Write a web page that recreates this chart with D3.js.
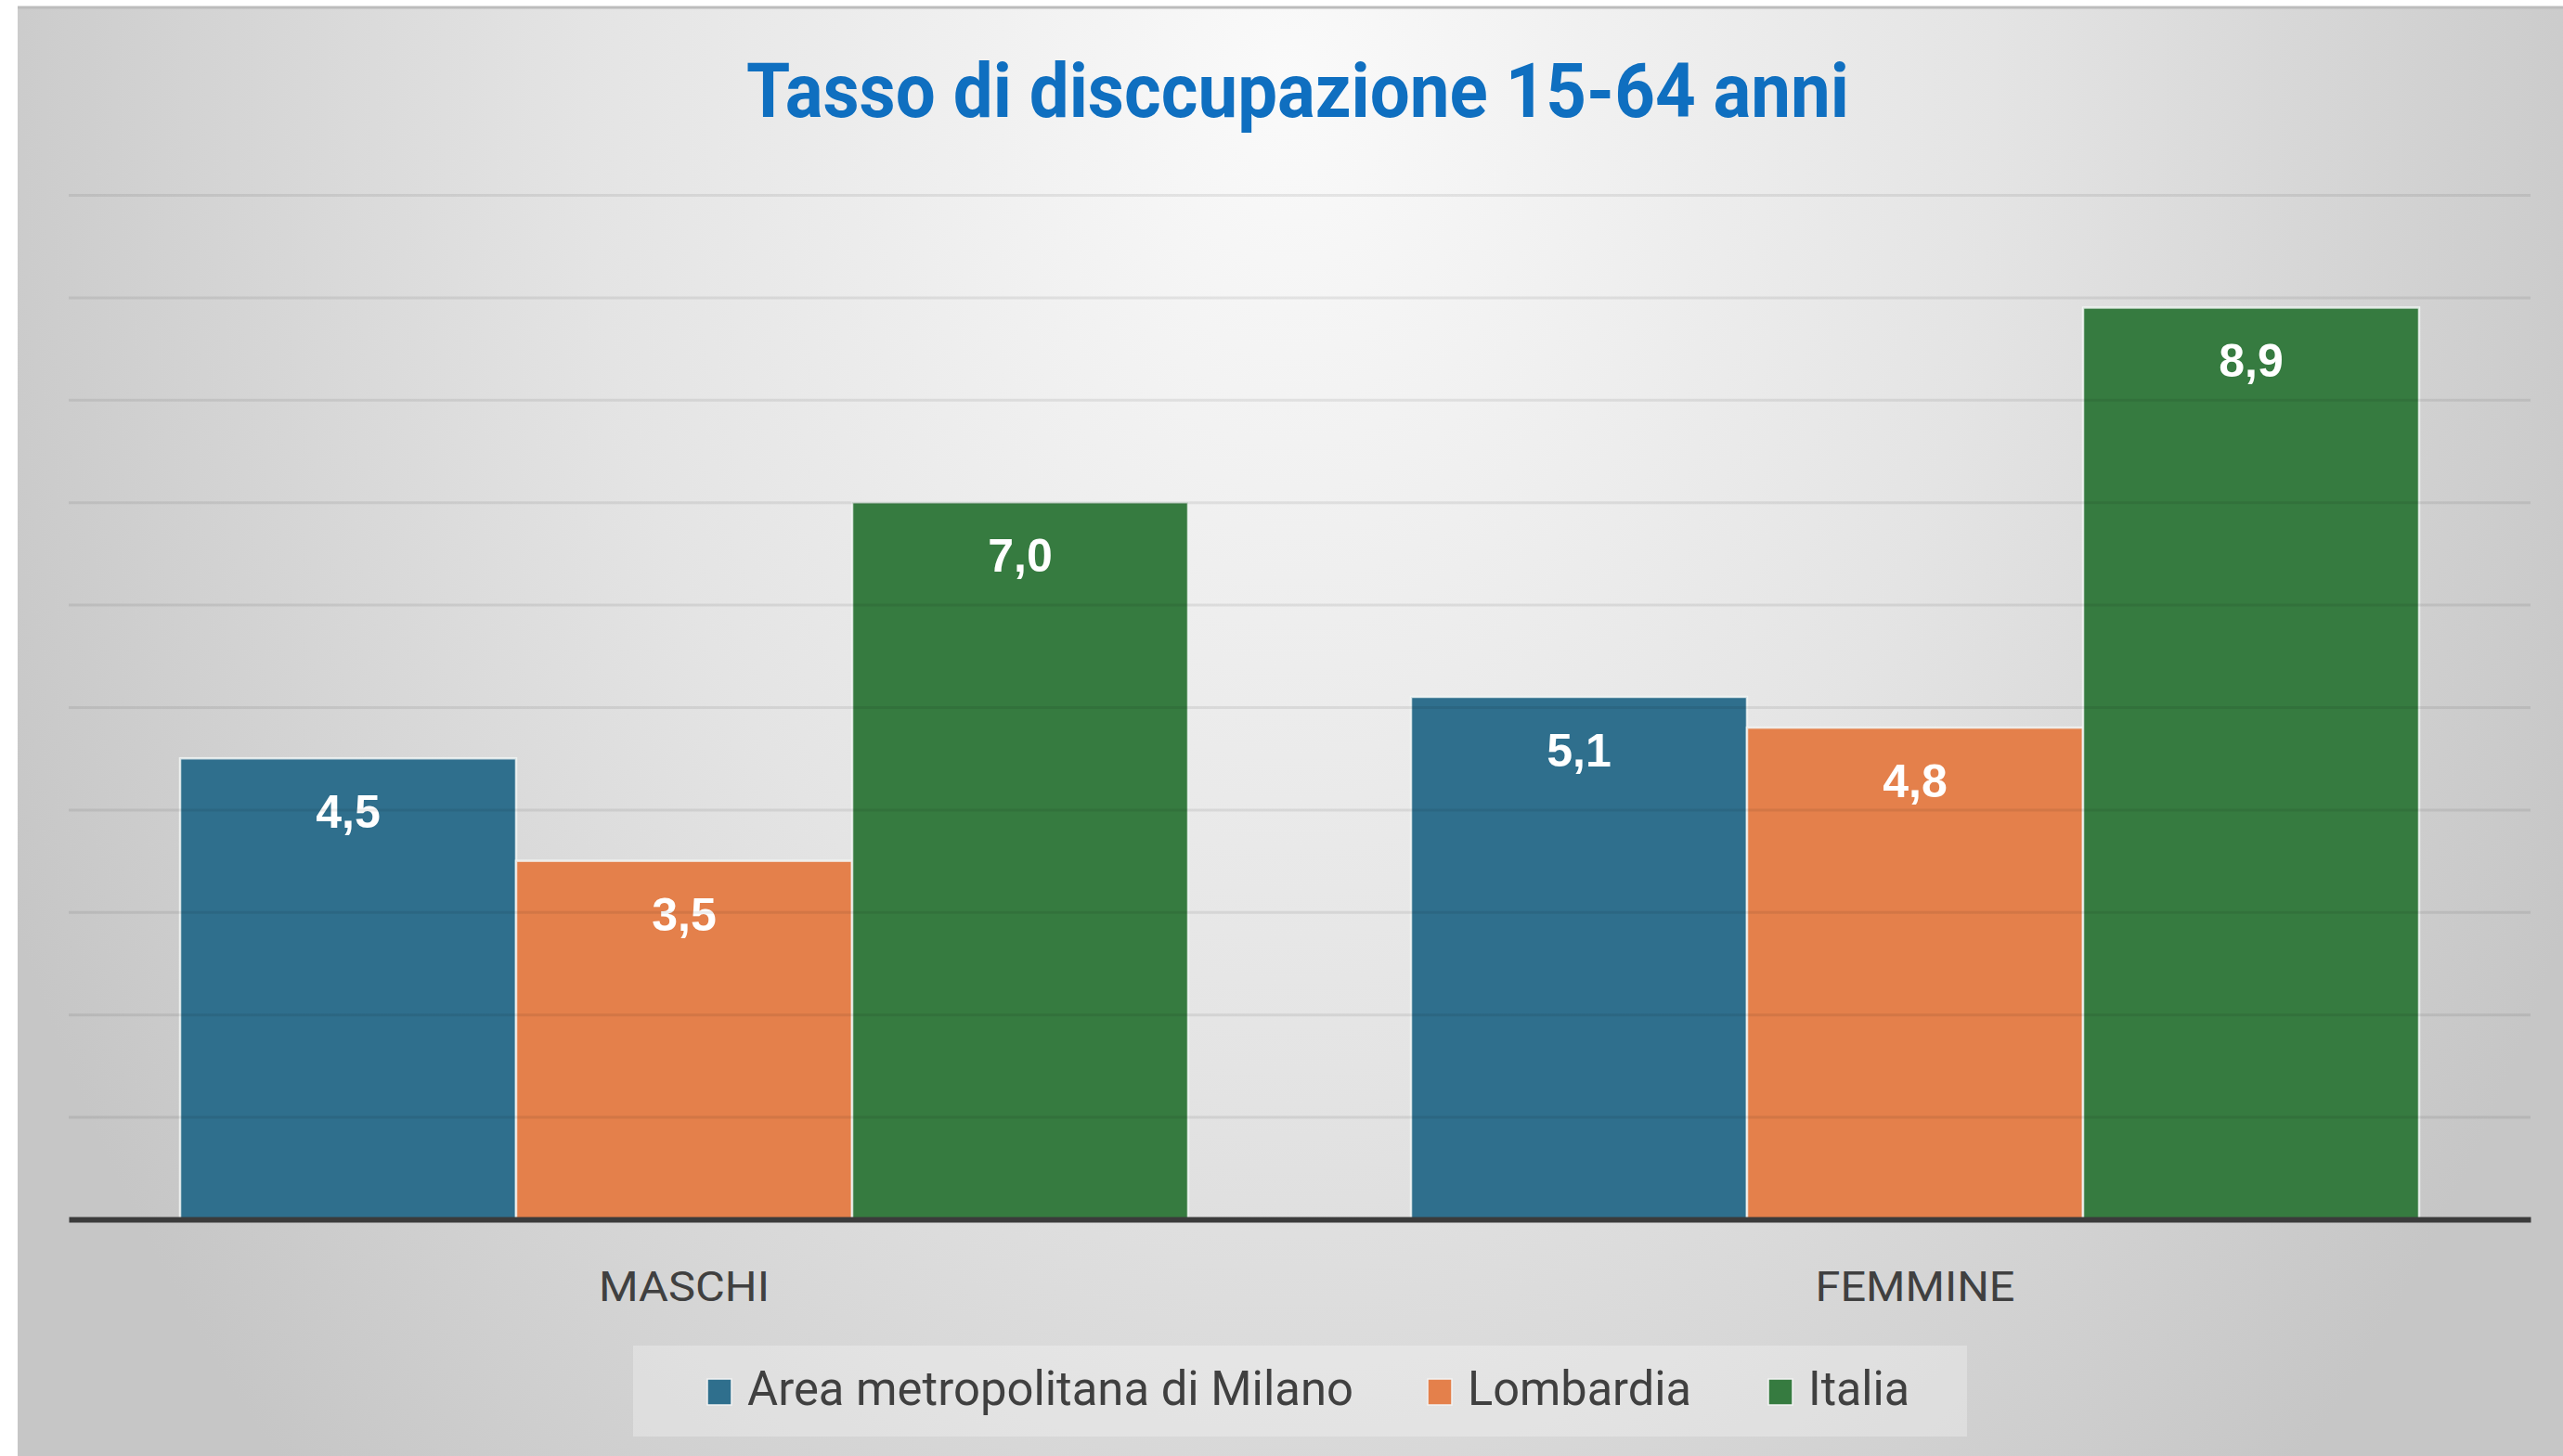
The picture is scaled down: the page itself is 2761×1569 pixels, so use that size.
<!DOCTYPE html>
<html>
<head>
<meta charset="utf-8">
<script src="https://cdn.jsdelivr.net/npm/d3@7"></script>
<style>
  body { margin: 0; background: #fff; }
  svg { display: block; }
</style>
</head>
<body>
<div class="chart"></div>
<script>
// Tasso di disoccupazione 15-64 anni - grouped bars

var categories = ["MASCHI", "FEMMINE"];
var seriesNames = ["Area metropolitana di Milano", "Lombardia", "Italia"];
var milanoValues = [4.5, 5.1];
var lombardiaValues = [3.5, 4.8];
var italiaValues = [7.0, 8.9];
var seriesColors = ["#2F6F8D", "#E4804B", "#367B40"];
var titleText = "Tasso di disccupazione 15-64 anni";

var seriesValues = [milanoValues, lombardiaValues, italiaValues];

var svgWidth = 2761;
var svgHeight = 1569;

var margin = { top: 210, right: 35, bottom: 255, left: 74 };
var width = svgWidth - margin.left - margin.right;
var height = 1314 - margin.top;

var fmt = d3.formatLocale({ decimal: ",", thousands: ".", grouping: [3], currency: ["", "€"] }).format(".1f");

var svg = d3.select(".chart")
  .append("svg")
  .attr("width", svgWidth)
  .attr("height", svgHeight);

var defs = svg.append("defs");

// background gradient, light near the title, darker to the sides
var bgGrad = defs.append("radialGradient")
  .attr("id", "bg")
  .attr("gradientUnits", "userSpaceOnUse")
  .attr("cx", 1390).attr("cy", 90).attr("r", 1520)
  .attr("gradientTransform", "translate(1390,90) scale(1,1.4) translate(-1390,-90)");
bgGrad.append("stop").attr("offset", 0).attr("stop-color", "#fafafa");
bgGrad.append("stop").attr("offset", 0.5).attr("stop-color", "#e4e4e4");
bgGrad.append("stop").attr("offset", 1).attr("stop-color", "#c6c6c6");

// gridlines fade out toward the top
var gridGrad = defs.append("linearGradient")
  .attr("id", "gridfade")
  .attr("gradientUnits", "userSpaceOnUse")
  .attr("x1", 0).attr("y1", margin.top)
  .attr("x2", 0).attr("y2", margin.top + height);
gridGrad.append("stop").attr("offset", 0).attr("stop-color", "#000").attr("stop-opacity", 0.08);
gridGrad.append("stop").attr("offset", 1).attr("stop-color", "#000").attr("stop-opacity", 0.3);

svg.append("rect")
  .attr("x", 19).attr("y", 7)
  .attr("width", svgWidth - 19).attr("height", svgHeight - 7)
  .attr("fill", "url(#bg)");

svg.append("line")
  .attr("x1", 19).attr("x2", svgWidth)
  .attr("y1", 8).attr("y2", 8)
  .attr("stroke", "#bcbcbc")
  .attr("stroke-width", 3);

// squeeze text into the width it takes in the original
function fitWidth(sel, w) {
  sel.attr("textLength", w).attr("lengthAdjust", "spacingAndGlyphs");
}

// title
var title = svg.append("text")
  .attr("x", 1398)
  .attr("y", 126)
  .attr("text-anchor", "middle")
  .style("font-family", "Roboto, 'Liberation Sans', sans-serif")
  .style("font-weight", "bold")
  .style("font-size", "81px")
  .style("fill", "#0F6FC0")
  .text(titleText);
fitWidth(title, 1188);

var chartGroup = svg.append("g")
  .attr("transform", `translate(${margin.left}, ${margin.top})`);

// scales
var x0 = d3.scaleBand()
  .domain(categories)
  .range([0, width])
  .paddingInner(0.181)
  .paddingOuter(0.0905);

var x1 = d3.scaleBand()
  .domain(seriesNames)
  .range([0, x0.bandwidth()]);

var yLinearScale = d3.scaleLinear()
  .domain([0, 10])
  .range([height, 0]);

// bars
var rows = categories.map(function(c, i) {
  return seriesNames.map(function(s, j) {
    return { cat: c, series: s, value: seriesValues[j][i], color: seriesColors[j] };
  });
});

var groups = chartGroup.selectAll(".cat")
  .data(rows)
  .enter()
  .append("g")
  .attr("class", "cat")
  .attr("transform", (d, i) => `translate(${x0(categories[i])}, 0)`);

groups.selectAll("rect")
  .data(d => d)
  .enter()
  .append("rect")
  .attr("x", d => x1(d.series))
  .attr("y", d => yLinearScale(d.value))
  .attr("width", x1.bandwidth())
  .attr("height", d => height - yLinearScale(d.value))
  .attr("fill", d => d.color)
  .attr("stroke", "#f2f6f4")
  .attr("stroke-opacity", 0.85)
  .attr("stroke-width", 2.5);

// gridlines drawn over the bars, semi transparent
var grid = chartGroup.append("g")
  .call(d3.axisLeft(yLinearScale)
    .tickValues(d3.range(1, 11))
    .tickSize(-width)
    .tickFormat(""));
grid.select(".domain").remove();
grid.selectAll("line")
  .attr("stroke", "url(#gridfade)")
  .attr("stroke-width", 3);

// value labels
groups.selectAll(".val")
  .data(d => d)
  .enter()
  .append("text")
  .attr("class", "val")
  .attr("x", d => x1(d.series) + x1.bandwidth() / 2)
  .attr("y", d => yLinearScale(d.value) + 75)
  .attr("text-anchor", "middle")
  .style("font-family", "'Liberation Sans', Arial, sans-serif")
  .style("font-weight", "bold")
  .style("font-size", "50px")
  .style("fill", "#ffffff")
  .text(d => fmt(d.value));

// category axis
var xAxis = chartGroup.append("g")
  .attr("transform", `translate(0, ${height})`)
  .call(d3.axisBottom(x0).tickSize(0).tickPadding(57));
xAxis.select(".domain")
  .attr("stroke", "#3b3b3b")
  .attr("stroke-width", 6);
xAxis.selectAll("text")
  .style("font-family", "Roboto, sans-serif")
  .style("font-size", "44px")
  .style("fill", "#404040")
  .each(function(d) {
    fitWidth(d3.select(this), d === "MASCHI" ? 184 : 215);
  });

// legend
var legendWidths = [653, 241, 109];
var legendX = [762, 1538, 1905];
var legend = svg.append("g");

legend.append("rect")
  .attr("x", 682).attr("y", 1450)
  .attr("width", 1437).attr("height", 98)
  .attr("fill", "#ffffff")
  .attr("fill-opacity", 0.28);

var items = legend.selectAll(".item")
  .data(seriesNames)
  .enter()
  .append("g")
  .attr("class", "item")
  .attr("transform", (d, i) => `translate(${legendX[i]}, 1500)`);

items.append("rect")
  .attr("x", 0).attr("y", -14)
  .attr("width", 26).attr("height", 28)
  .attr("fill", (d, i) => seriesColors[i])
  .attr("stroke", "#f2f2f2")
  .attr("stroke-width", 1.5);

items.append("text")
  .attr("x", 43)
  .attr("y", 14)
  .style("font-family", "Roboto, sans-serif")
  .style("font-size", "52px")
  .style("fill", "#404040")
  .text(d => d)
  .each(function(d, i) {
    fitWidth(d3.select(this), legendWidths[i]);
  });
</script>
</body>
</html>
